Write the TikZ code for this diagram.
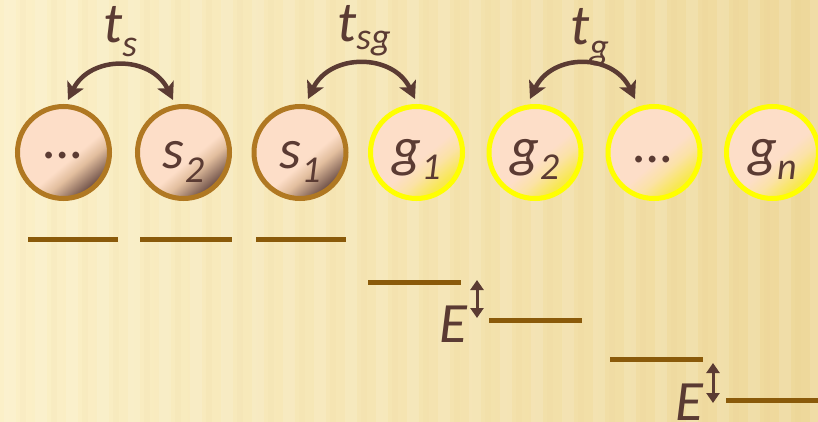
\documentclass[tikz,border=0pt]{standalone}
\usepackage{fontspec}
\setmainfont{Carlito}
\usetikzlibrary{arrows.meta}
\definecolor{bglight}{HTML}{FBF0C8}
\definecolor{bgdark}{HTML}{EED89A}
\definecolor{txt}{HTML}{5B3B33}
\definecolor{sring}{HTML}{B07822}
\definecolor{gring}{HTML}{FFFF00}
\definecolor{lvl}{HTML}{8A5A0A}
\definecolor{peach}{HTML}{FDDEC8}
\definecolor{peachmid}{HTML}{E2BE9E}
\definecolor{sdark}{HTML}{6E5048}
\definecolor{gmid}{HTML}{FBE2A6}
\definecolor{gyel}{HTML}{F8E850}
\pgfdeclarehorizontalshading{sfill}{100bp}{color(0bp)=(peach); color(55bp)=(peach); color(62bp)=(peachmid); color(74bp)=(sdark); color(100bp)=(sdark)}
\pgfdeclarehorizontalshading{gfill}{100bp}{color(0bp)=(peach); color(54bp)=(peach); color(62bp)=(gmid); color(72bp)=(gyel); color(100bp)=(gyel)}
\newcommand{\lowsub}[2]{\raisebox{-#1}{\fontsize{38}{38}\selectfont #2}}
\tikzset{
  ball/.style={circle, minimum size=92pt, inner sep=0pt, line width=5pt, shading angle=-50,
    font=\fontsize{56}{56}\selectfont\itshape, text=txt, text depth=0pt},
  sball/.style={ball, draw=sring, shading=sfill},
  gball/.style={ball, draw=gring, shading=gfill},
  level/.style={draw=lvl, line width=5pt},
  hop/.style={draw=txt, line width=4.5pt, <->, >={Stealth[length=17pt,width=18pt,inset=4pt]}},
  gapar/.style={draw=txt, line width=3pt, <->, >={Triangle[length=10pt,width=13pt]}},
  lbl/.style={text=txt, inner sep=0pt, font=\fontsize{57}{57}\selectfont\itshape}
}
\begin{document}
\begin{tikzpicture}[x=1pt,y=-1pt]
\useasboundingbox (0,0) rectangle (818,422);
% background
\shade[left color=bglight, right color=bgdark] (0,0) rectangle (818,422);
\foreach \i in {0,...,27} {
  \fill[white, opacity=0.12] (\i*31+4,0) rectangle ++(12,422);
  \fill[bgdark!80!brown, opacity=0.06] (\i*31+20,0) rectangle ++(6,422);
}
% sites
\node[sball, text height=12pt] (c1) at (63.5,152.5) {…};
\node[sball, text height=31pt] (c2) at (183.5,152.5) {s\lowsub{14pt}{2}};
\node[sball, text height=31pt] (c3) at (300,152.5) {s\lowsub{14pt}{1}};
\node[gball, text height=29pt] (c4) at (416.5,152.5) {g\lowsub{13pt}{1}};
\node[gball, text height=29pt] (c5) at (535,152.5) {g\lowsub{13pt}{2}};
\node[gball, text height=21pt] (c6) at (654,152.5) {…};
\node[gball, text height=29pt] (c7) at (772.5,152.5) {g\lowsub{13pt}{n}};
% hopping arrows
\coordinate (tsL) at (68,100);
\coordinate (tsR) at (173,100);
\coordinate (tsgL) at (308,99);
\coordinate (tsgR) at (415,99);
\coordinate (tgL) at (530,99);
\coordinate (tgR) at (635,99);
\draw[hop] (tsL) .. controls +(22,-45) and +(-22,-45) .. (tsR);
\draw[hop] (tsgL) .. controls +(22,-46) and +(-22,-46) .. (tsgR);
\draw[hop] (tgL) .. controls +(22,-46) and +(-22,-46) .. (tgR);
\node[lbl, anchor=base west] (lts) at (103,43) {t\lowsub{14pt}{s}};
\node[lbl, anchor=base west] (ltsg) at (337,42) {t\lowsub{8pt}{sg}};
\node[lbl, anchor=base west] (ltg) at (570,45) {t\lowsub{15pt}{g}};
% energy levels
\draw[level] (28,239) -- (118,239);
\draw[level] (140,239) -- (232,239);
\draw[level] (256,239) -- (346,239);
\draw[level] (368,282) -- (461,282);
\draw[level] (489,320) -- (582,320);
\draw[level] (610,359) -- (703,359);
\draw[level] (726,400) -- (818,400);
% energy gaps
\coordinate (e1t) at (477,280);
\coordinate (e1b) at (477,318);
\coordinate (e2t) at (713,363);
\coordinate (e2b) at (713,403);
\draw[gapar] (e1t) -- (e1b);
\draw[gapar] (e2t) -- (e2b);
\node[lbl, anchor=base west] (E1) at (439,342) {E};
\node[lbl, anchor=base west] (E2) at (675,420) {E};
\end{tikzpicture}
\end{document}
